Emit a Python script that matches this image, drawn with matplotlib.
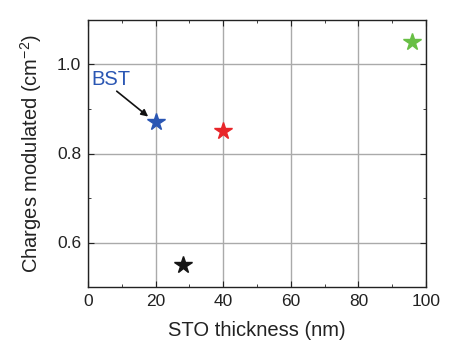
import matplotlib
matplotlib.use("Agg")
import matplotlib.pyplot as plt
from matplotlib.ticker import MultipleLocator

plt.rcParams['font.family'] = ['Liberation Sans', 'DejaVu Sans']
plt.rcParams['mathtext.default'] = 'regular'

# samples: STO thickness vs. modulated charge
thickness = [20, 40, 28, 96]
charges = [0.87, 0.85, 0.55, 1.05]
colors = ['#2a56b3', '#e8262a', '#151515', '#68bf45']

fig = plt.figure(figsize=(4.52, 3.45), dpi=100)
ax = fig.add_axes([88/452, 1-287/345, 338/452, 267/345])

for x, y, c in zip(thickness, charges, colors):
    ax.plot(x, y, marker='*', ms=13, color=c, ls='none', zorder=3)

# label + arrow pointing at the BST sample
ax.text(6.9, 0.966, 'BST', ha='center', va='center', fontsize=14.5, color='#2a56b3')
ax.annotate('', xy=(17.8, 0.883), xytext=(8.5, 0.94),
            arrowprops=dict(arrowstyle='-|>', color='#111111', lw=1.2,
                            mutation_scale=10, shrinkA=0, shrinkB=0))

ax.set_xlim(0, 100)
ax.set_ylim(0.5, 1.1)
ax.xaxis.set_major_locator(MultipleLocator(20))
ax.xaxis.set_minor_locator(MultipleLocator(10))
ax.yaxis.set_major_locator(MultipleLocator(0.2))
ax.yaxis.set_minor_locator(MultipleLocator(0.1))
ax.tick_params(which='both', direction='in', top=True, right=True, labelsize=12.5, colors='#222222')
ax.tick_params(which='major', length=4, pad=5)
ax.tick_params(which='minor', length=2.5)
ax.grid(True, which='major', color='#aaaaaa', lw=1)
for s in ax.spines.values():
    s.set_color('#222222')
    s.set_linewidth(1)

ax.set_xlabel('STO thickness (nm)', fontsize=14.5, color='#222222', labelpad=9)
ax.set_ylabel('Charges modulated (cm$^{-2}$)', fontsize=14.5, color='#222222', labelpad=9)

fig.savefig('out.png', dpi=100)
